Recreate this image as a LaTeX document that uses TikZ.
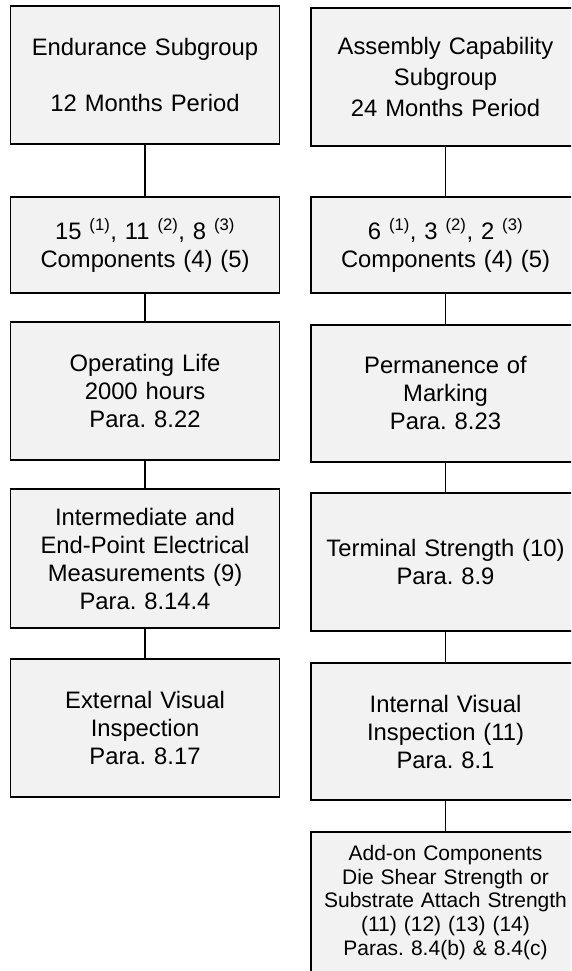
\documentclass[tikz,border=0pt]{standalone}
\usepackage{fontspec}
\setmainfont{Liberation Sans}
\usepackage{tikz}
\frenchspacing
\definecolor{boxfill}{HTML}{F2F2F2}
\tikzset{
  stage/.style={draw,line width=1.6pt,fill=boxfill,inner xsep=4pt,inner ysep=0pt,
    text width=261pt,align=center,font=\fontsize{23.8}{28}\selectfont},
  small stage/.style={stage,font=\fontsize{21}{23.7}\selectfont},
  link/.style={line width=1.3pt}
}

\begin{document}
\begin{tikzpicture}[x=1pt,y=-1pt]
                      \useasboundingbox (0,0) rectangle (571,971);
                      \clip (0,0) rectangle (571,971);
                      \node[stage,minimum height=138pt](endur)at(145,75){Endurance Subgroup\\[28pt]12 Months Period};
                      \node[stage,minimum height=96pt](endqty)at(145,245){15 \textsuperscript{(1)}, 11 \textsuperscript{(2)}, 8 \textsuperscript{(3)}\\Components (4) (5)};
                      \node[stage,minimum height=138pt](oplife)at(145,391){Operating Life\\2000 hours\\Para. 8.22};
                      \node[stage,minimum height=139pt](elmeas)at(145,558.5){Intermediate and\\End-Point Electrical\\Measurements (9)\\Para. 8.14.4};
                      \node[stage,minimum height=138pt](extvis)at(145,728){External Visual\\Inspection\\Para. 8.17};
                      \node[stage,minimum height=138pt](assem)at(445.5,77){Assembly Capability\\[3pt]Subgroup\\[3pt]24 Months Period};
                      \node[stage,minimum height=96pt](assqty)at(445.5,245){6 \textsuperscript{(1)}, 3 \textsuperscript{(2)}, 2 \textsuperscript{(3)}\\Components (4) (5)};
                      \node[stage,minimum height=137pt](marking)at(445.5,393.5){Permanence of\\Marking\\Para. 8.23};
                      \node[stage,minimum height=138pt](termstr)at(445.5,562){Terminal Strength (10)\\Para. 8.9};
                      \node[stage,minimum height=137pt](intvis)at(445.5,731.5){Internal Visual\\Inspection (11)\\Para. 8.1};
                      \node[small stage,minimum height=141pt](dieshear)at(445.5,902.5){Add-on Components\\Die Shear Strength or\\Substrate Attach Strength\\(11) (12) (13) (14)\\Paras. 8.4(b) \& 8.4(c)};
                      \draw[link] (endur) -- (endqty);
                      \draw[link] (endqty) -- (oplife);
                      \draw[link] (oplife) -- (elmeas);
                      \draw[link] (elmeas) -- (extvis);
                      \draw[link] (assem) -- (assqty);
                      \draw[link] (assqty) -- (marking);
                      \draw[link] (marking) -- (termstr);
                      \draw[link] (termstr) -- (intvis);
                      \draw[link] (intvis) -- (dieshear);
                  \end{tikzpicture}
\end{document}
